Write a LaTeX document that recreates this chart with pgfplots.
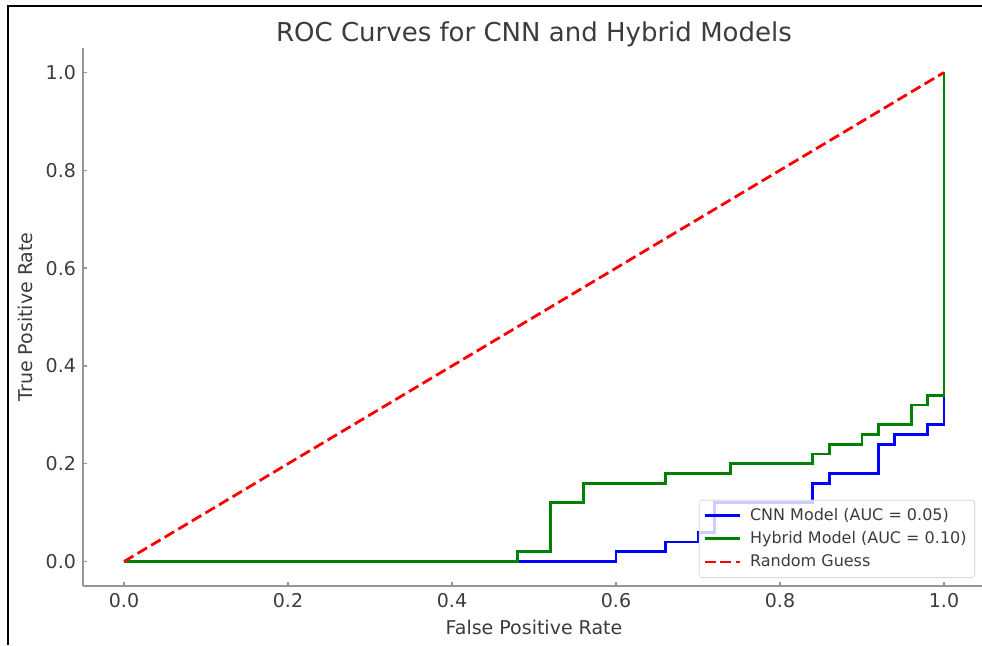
\documentclass[border=0pt]{standalone}
\usepackage{fontspec}
\setmainfont{DejaVu Sans}
\usepackage{pgfplots}
\pgfplotsset{compat=1.18}
\definecolor{mplblue}{RGB}{0,0,255}
\definecolor{mplgreen}{RGB}{0,128,0}
\definecolor{mplred}{RGB}{255,0,0}
\definecolor{spine}{RGB}{150,150,150}
\definecolor{txt}{RGB}{60,60,60}
\begin{document}
\begin{tikzpicture}
% bounding box: 982x645 px at 0.5pt/px, axis origin at px (83,586)
\useasboundingbox (-41.5pt,-29.5pt) rectangle (449.5pt,293pt);
\draw[black, line width=1pt] (-37.5pt,-29.5pt) -- (-37.5pt,290pt) -- (449.5pt,290pt);
\begin{axis}[
  at={(0pt,0pt)}, anchor=south west,
  scale only axis, width=451pt, height=269pt,
  xmin=-0.05, xmax=1.05, ymin=-0.05, ymax=1.05,
  axis lines=left, axis line style={-, spine, line width=1.1pt},
  tick align=inside, major tick length=2pt,
  every tick/.style={spine, line width=0.6pt},
  xtick={0,0.2,0.4,0.6,0.8,1.0}, ytick={0,0.2,0.4,0.6,0.8,1.0},
  /pgf/number format/assume math mode=true,
  xticklabel style={/pgf/number format/.cd, fixed, fixed zerofill, precision=1},
  yticklabel style={/pgf/number format/.cd, fixed, fixed zerofill, precision=1},
  ticklabel style={font=\fontsize{9.5}{11}\selectfont, text=txt},
  title={ROC Curves for CNN and Hybrid Models},
  every axis title/.style={at={(axis description cs:0.5,1)}, anchor=base, yshift=3.5pt, font=\fontsize{13}{15}\selectfont, text=txt},
  xlabel={False Positive Rate},
  ylabel={True Positive Rate},
  every axis x label/.style={at={(axis description cs:0.5,0)}, anchor=base, yshift=-24pt, font=\fontsize{9.5}{11}\selectfont, text=txt},
  every axis y label/.style={at={(axis description cs:0,0.5)}, rotate=90, anchor=base, yshift=25pt, font=\fontsize{9.5}{11}\selectfont, text=txt},
  legend style={at={(1,0)}, anchor=south east, xshift=-5pt, yshift=4pt,
    draw=black!15, rounded corners=1.5pt, fill=white, fill opacity=0.8, text opacity=1,
    font=\fontsize{8}{9.6}\selectfont, text=txt, row sep=0pt, inner sep=2pt},
  legend cell align=left,
  legend image code/.code={\path (20pt,0pt); \draw[#1] (0pt,0pt) -- (17.5pt,0pt);},
]
\addplot[mplblue, line width=1.4pt] coordinates {
(0,0) (0.60,0) (0.60,0.02) (0.66,0.02) (0.66,0.04) (0.70,0.04) (0.70,0.06) (0.72,0.06)
(0.72,0.12) (0.84,0.12) (0.84,0.16) (0.86,0.16) (0.86,0.18) (0.92,0.18) (0.92,0.24)
(0.94,0.24) (0.94,0.26) (0.98,0.26) (0.98,0.28) (1,0.28) (1,1)};
\addlegendentry{CNN Model (AUC = 0.05)}
\addplot[mplgreen, line width=1.4pt] coordinates {
(0,0) (0.48,0) (0.48,0.02) (0.52,0.02) (0.52,0.12) (0.56,0.12) (0.56,0.16) (0.66,0.16)
(0.66,0.18) (0.74,0.18) (0.74,0.20) (0.84,0.20) (0.84,0.22) (0.86,0.22) (0.86,0.24)
(0.90,0.24) (0.90,0.26) (0.92,0.26) (0.92,0.28) (0.96,0.28) (0.96,0.32) (0.98,0.32)
(0.98,0.34) (1,0.34) (1,1)};
\addlegendentry{Hybrid Model (AUC = 0.10)}
\addplot[mplred, line width=1.4pt, dash pattern=on 5.5pt off 2.4pt] coordinates {(0,0) (1,1)};
\addlegendentry{Random Guess}
\end{axis}
\end{tikzpicture}
\end{document}
